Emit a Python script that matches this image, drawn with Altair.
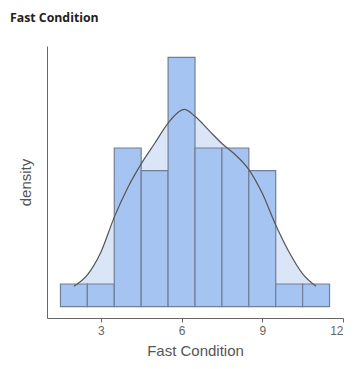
import altair as alt
import pandas as pd

# Histogram bins (width 1) and counts
bin_start = [1.5, 2.5, 3.5, 4.5, 5.5, 6.5, 7.5, 8.5, 9.5, 10.5]
bin_end = [2.5, 3.5, 4.5, 5.5, 6.5, 7.5, 8.5, 9.5, 10.5, 11.5]
counts = [1, 1, 7, 6, 11, 7, 7, 6, 1, 1]

# Density curve (scaled to count units)
curve_x = [2.0, 2.5, 3.0, 3.5, 4.0, 4.5, 5.0, 5.5, 6.0, 6.1, 6.5, 7.0, 7.5, 8.0, 8.5, 9.0, 9.5, 10.0, 10.5, 11.0]
curve_y = [0.9, 1.4, 2.4, 3.95, 5.25, 6.3, 7.2, 8.1, 8.67, 8.7, 8.4, 7.8, 7.2, 6.7, 6.05, 5.0, 3.6, 2.4, 1.45, 0.9]

bars = pd.DataFrame({"start": bin_start, "end": bin_end, "count": counts})
curve = pd.DataFrame({"x": curve_x, "y": curve_y})

xscale = alt.Scale(domain=[1, 12], nice=False, zero=False)
yscale = alt.Scale(domain=[-0.5, 11.5], nice=False, zero=False)

xaxis = alt.Axis(values=[3, 6, 9, 12], title="Fast Condition", grid=False,
                 domainColor="#666666", tickColor="#666666", tickSize=4,
                 labelColor="#666666", labelFontSize=12, labelFont="Liberation Sans",
                 labelFlush=True,
                 titleColor="#555555", titleFontSize=15, titleFont="Liberation Sans",
                 titleFontWeight="normal", titlePadding=7, labelPadding=3)
yaxis = alt.Axis(title="density", grid=False, ticks=False, labels=False,
                 domainColor="#666666", titleColor="#555555", titleFontSize=15,
                 titleFont="Liberation Sans", titleFontWeight="normal", titlePadding=14)

area = alt.Chart(curve).mark_area(color="#dae5f7", opacity=1, interpolate="monotone").encode(
    x=alt.X("x:Q", scale=xscale, axis=xaxis),
    y=alt.Y("y:Q", scale=yscale, axis=yaxis),
    y2=alt.datum(0),
)

hist = alt.Chart(bars).mark_rect(fill="#a6c4f2", stroke="#717f96", strokeWidth=1.2).encode(
    x=alt.X("start:Q", scale=xscale),
    x2="end:Q",
    y=alt.Y("count:Q", scale=yscale),
    y2=alt.datum(0),
)

line = alt.Chart(curve).mark_line(color="#555555", strokeWidth=1.2, interpolate="monotone").encode(
    x=alt.X("x:Q", scale=xscale),
    y=alt.Y("y:Q", scale=yscale),
)

chart = alt.layer(area, hist, line).properties(
    width=296, height=272,
    title=alt.TitleParams("Fast Condition", anchor="start", frame="group",
                          font="Open Sans", fontSize=12.3, fontWeight="bold",
                          color="#222222", dx=-37, offset=22),
    autosize=alt.AutoSizeParams(type="none"),
    padding={"left": 39, "top": 38, "right": 6, "bottom": 43},
).configure_view(stroke=None)

chart.save("out.html", embed_options={"renderer": "svg", "actions": False})
